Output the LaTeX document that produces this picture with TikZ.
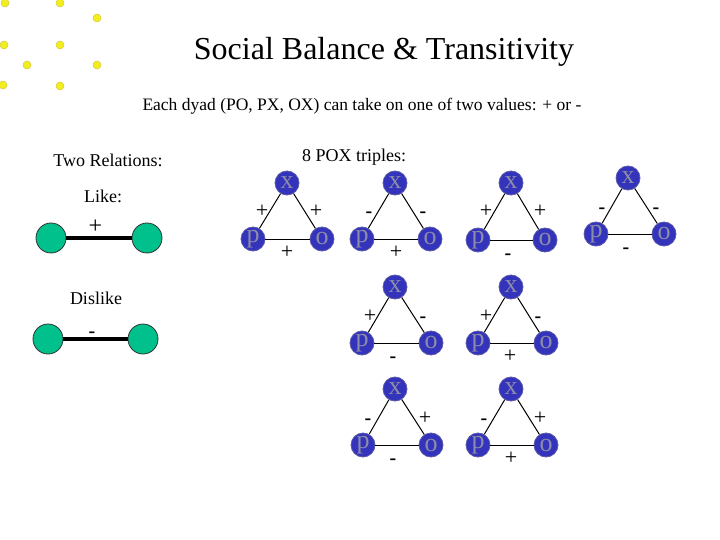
\documentclass[tikz,border=0pt]{standalone}
\usepackage{fontspec}
\setmainfont{Liberation Serif}
\definecolor{dotyellow}{HTML}{F2EE1E}
\definecolor{dotedge}{HTML}{D8C840}
\definecolor{navy}{HTML}{3333BB}
\definecolor{navyedge}{HTML}{5A5AA8}
\definecolor{lettergrey}{HTML}{8C8CA8}
\definecolor{teal}{HTML}{00C08C}
\tikzset{
  dotnode/.style={circle,fill=dotyellow,draw=dotedge,line width=0.5pt,minimum size=8pt,inner sep=0pt},
  actor/.style={circle,fill=navy,draw=navyedge,line width=0.8pt,minimum size=24pt,inner sep=0pt,text=lettergrey,font=\fontsize{26}{26}\selectfont},
  person/.style={circle,fill=teal,draw=black!80,line width=0.8pt,minimum size=30pt,inner sep=0pt},
  tie/.style={draw=black,line width=1pt},
  heavytie/.style={draw=black,line width=3.2pt},
  sign/.style={inner sep=0pt,font=\fontsize{22}{22}\selectfont},
  minus/.style={inner sep=0pt,yshift=-3pt,font=\bfseries\fontsize{20}{20}\selectfont},
  bigsign/.style={inner sep=0pt,font=\fontsize{24}{24}\selectfont},
  lbl/.style={inner sep=0pt,font=\fontsize{18}{20}\selectfont},
}
\newcommand{\triad}[6]{%
  \node[actor] (#1x) at (#2,#3) {x};
  \node[actor] (#1p) at (#4,#6) {p};
  \node[actor] (#1o) at (#5,#6) {o};
  \draw[tie] (#1p) -- (#1x);
  \draw[tie] (#1x) -- (#1o);
  \draw[tie] (#1p) -- (#1o);
}
\begin{document}
\begin{tikzpicture}[x=1pt,y=-1pt]
\useasboundingbox (0,0) rectangle (720,540);
\fill[white] (0,0) rectangle (720,540);
\foreach \n/\a/\b in {a/5/3,b/60/3,c/97/18,d/4/45,e/60/45,f/27/65,g/97/65,h/3/85,i/60/86}
  \node[dotnode] (dot\n) at (\a,\b) {};
\node[inner sep=0pt,font=\fontsize{32}{32}\selectfont] (title) at (384,52) {Social Balance \& Transitivity};
\node[inner sep=0pt,font=\fontsize{17.5}{20}\selectfont] (sub) at (362,106) {Each dyad (PO, PX, OX) can take on one of two values: + or -};
\node[lbl] (two) at (108,160) {Two Relations:};
\node[lbl] (eight) at (354,157) {8 POX triples:};
\node[lbl] (like) at (103,196) {Like:};
\node[lbl] (dislike) at (96,298) {Dislike};
\node[person] (l1) at (51,238) {};
\node[person] (l2) at (147,238) {};
\draw[heavytie] (l1) -- (l2);
\node[bigsign] (lp) at (95.5,227) {+};
\node[person] (d1) at (48,339) {};
\node[person] (d2) at (143,339) {};
\draw[heavytie] (d1) -- (d2);
\node[minus] (dm) at (92,332) {-};
\triad{A}{287}{183}{253}{322}{239}
\node[sign] (Al) at (262,211) {+};
\node[sign] (Ar) at (316,211) {+};
\node[sign] (Ab) at (287,252) {+};
\triad{B}{395}{183}{362}{430}{239}
\node[minus] (Bl) at (369,212) {-};
\node[minus] (Br) at (423,212) {-};
\node[sign] (Bb) at (396,252) {+};
\triad{C}{511}{183}{478}{545}{240}
\node[sign] (Cl) at (486,211) {+};
\node[sign] (Cr) at (540,211) {+};
\node[minus] (Cb) at (508,254) {-};
\triad{D}{628}{178}{596}{664}{234}
\node[minus] (Dl) at (602,208) {-};
\node[minus] (Dr) at (656,207.5) {-};
\node[minus] (Db) at (626,247.5) {-};
\triad{E}{395}{287}{362}{431}{343}
\node[sign] (El) at (370,316) {+};
\node[minus] (Er) at (423,317) {-};
\node[minus] (Eb) at (393,357) {-};
\triad{F}{511}{287}{478}{546}{343}
\node[sign] (Fl) at (486,316) {+};
\node[minus] (Fr) at (538,317) {-};
\node[sign] (Fb) at (510,356) {+};
\triad{G}{395}{389}{363}{431}{445}
\node[minus] (Gl) at (368,419) {-};
\node[sign] (Gr) at (425,418) {+};
\node[minus] (Gb) at (393,459) {-};
\triad{H}{511}{389}{478}{546}{445}
\node[minus] (Hl) at (484,419) {-};
\node[sign] (Hr) at (540,418) {+};
\node[sign] (Hb) at (511,458) {+};
\end{tikzpicture}
\end{document}
